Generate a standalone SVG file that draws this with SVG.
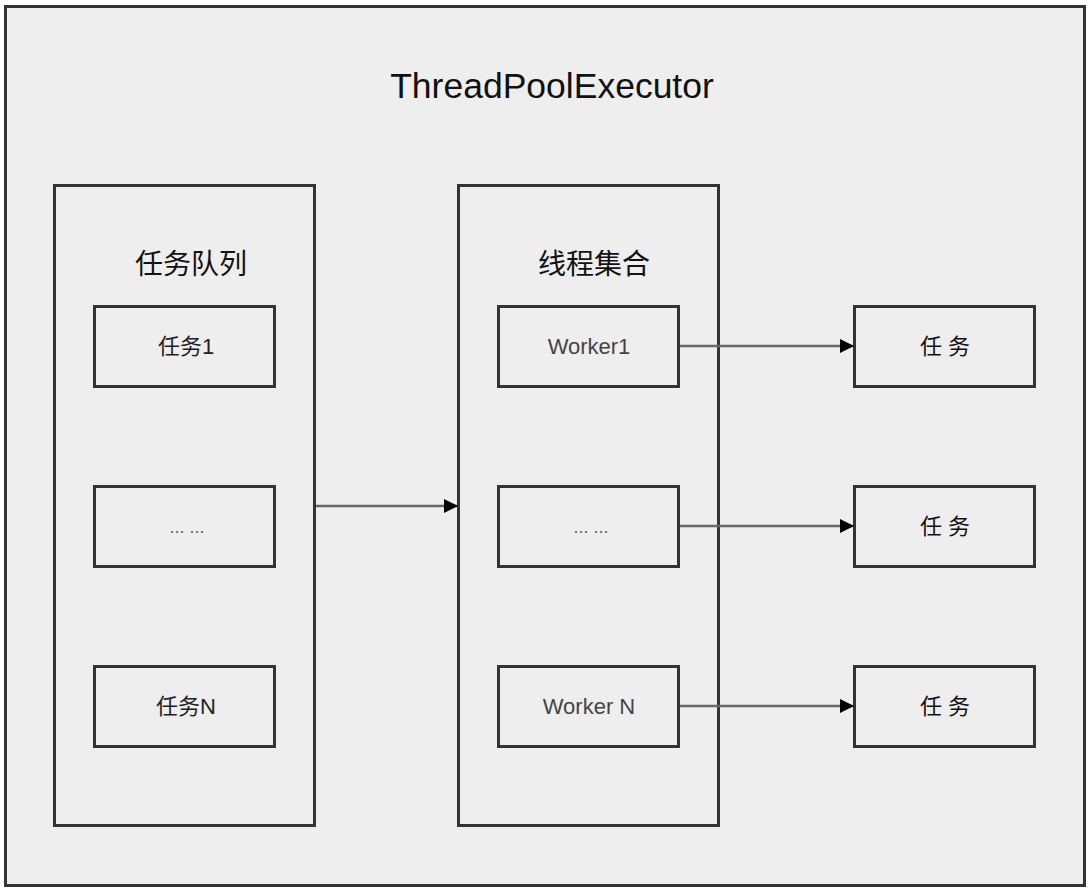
<svg xmlns="http://www.w3.org/2000/svg" width="1092" height="890" viewBox="0 0 1092 890">
<defs>
<style>
.box{fill:#eeeeee;stroke:#333333;stroke-width:3}
.t{font-family:"Liberation Sans","Noto Sans CJK SC",sans-serif;text-anchor:middle;dominant-baseline:central}
.conn{stroke:#666666;stroke-width:2.5;fill:none}
</style>
<marker id="ah" markerWidth="16" markerHeight="16" refX="14" refY="8" orient="auto" markerUnits="userSpaceOnUse">
<path d="M1,1 L15,8 L1,15 Z" fill="#000"/>
</marker>
</defs>
<rect width="1092" height="890" fill="#ffffff"/>
<g id="outer">
<rect class="box" x="5.5" y="6.5" width="1079" height="879"/>
<text class="t" x="552" y="86" font-size="35.5" fill="#111">ThreadPoolExecutor</text>
</g>
<g id="queue">
<rect class="box" x="54.5" y="185.5" width="260" height="640"/>
<text class="t" x="191" y="264" font-size="28" fill="#111">任务队列</text>
</g>
<g id="task1"><rect class="box" x="94.5" y="306.5" width="180" height="80"/><text class="t" x="186" y="346" font-size="22" fill="#222">任务1</text></g>
<g id="taskdots"><rect class="box" x="94.5" y="486.5" width="180" height="80"/><text class="t" x="187" y="527" font-size="18" fill="#666">... ...</text></g>
<g id="taskN"><rect class="box" x="94.5" y="666.5" width="180" height="80"/><text class="t" x="186" y="706" font-size="22" fill="#222">任务N</text></g>
<g id="workers">
<rect class="box" x="458.5" y="185.5" width="260" height="640"/>
<text class="t" x="594" y="264" font-size="28" fill="#111">线程集合</text>
</g>
<g id="worker1"><rect class="box" x="498.5" y="306.5" width="180" height="80"/><text class="t" x="589" y="346" font-size="22" fill="#444">Worker1</text></g>
<g id="workerdots"><rect class="box" x="498.5" y="486.5" width="180" height="80"/><text class="t" x="591" y="527" font-size="18" fill="#666">... ...</text></g>
<g id="workerN"><rect class="box" x="498.5" y="666.5" width="180" height="80"/><text class="t" x="589" y="706" font-size="22" fill="#444">Worker N</text></g>
<g id="r1"><rect class="box" x="854.5" y="306.5" width="180" height="80"/><text class="t" x="945" y="346" font-size="22" fill="#111">任 务</text></g>
<g id="r2"><rect class="box" x="854.5" y="486.5" width="180" height="80"/><text class="t" x="945" y="526" font-size="22" fill="#111">任 务</text></g>
<g id="r3"><rect class="box" x="854.5" y="666.5" width="180" height="80"/><text class="t" x="945" y="706" font-size="22" fill="#111">任 务</text></g>
<g id="connectors">
<line class="conn" x1="316" y1="506" x2="457" y2="506" marker-end="url(#ah)"/>
<line class="conn" x1="680" y1="346" x2="853" y2="346" marker-end="url(#ah)"/>
<line class="conn" x1="680" y1="526" x2="853" y2="526" marker-end="url(#ah)"/>
<line class="conn" x1="680" y1="706" x2="853" y2="706" marker-end="url(#ah)"/>
</g>
</svg>
